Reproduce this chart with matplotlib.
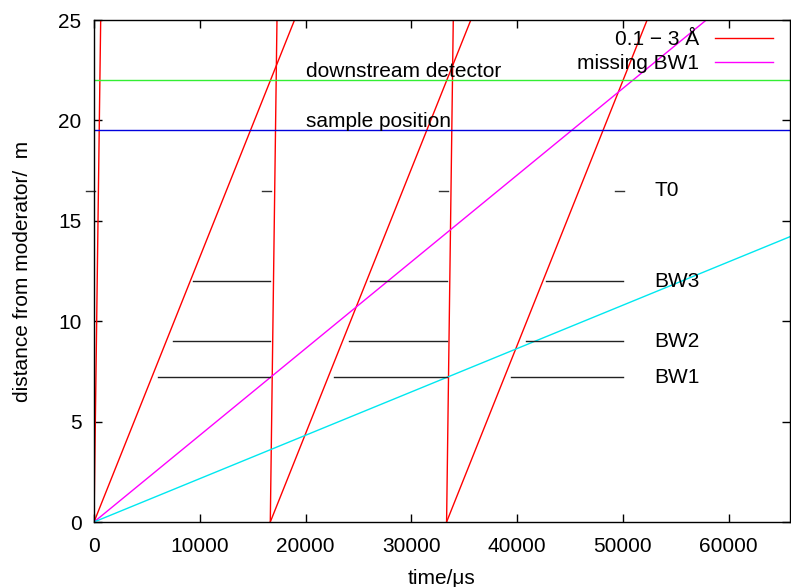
import matplotlib
matplotlib.use("Agg")
import matplotlib.pyplot as plt
import numpy as np

plt.rcParams['font.family'] = ['Liberation Sans', 'DejaVu Sans']

# --- data ---
h_over_m = 252.78            # us per (Angstrom * m)
frame_period = 16666.7       # us (60 Hz)
frame_starts = [0.0, frame_period, 2 * frame_period]
band_wavelengths = [0.1, 3.0]          # Angstrom, "0.1 - 3 A"
missing_wavelengths = [9.16, 18.32]     # Angstrom, magenta and cyan lines
missing_colors = ['#ff00ff', '#00e8f0']
max_distance = 26.0

detector_pos = 22.0
sample_pos = 19.5

t0_pos = 16.5
t0_window = [-750.0, 100.0]             # relative to each frame start
t0_frames = [0.0, frame_period, 2 * frame_period, 3 * frame_period]

bw_names = ['BW3', 'BW2', 'BW1']
bw_pos = [12.0, 9.0, 7.2]
bw_open_offset = [9400.0, 7470.0, 6050.0]   # start of closed segment after frame start

xlim = (0, 65800)
ylim = (0, 25)
xticks = [0, 10000, 20000, 30000, 40000, 50000, 60000]
yticks = [0, 5, 10, 15, 20, 25]

FS = 15

fig = plt.figure(figsize=(7.91, 5.87), dpi=100)
ax = fig.add_axes([94/791, 1-522/587, (790-94)/791, (522-20)/587])

# red band lines for each frame
first = True
for fs in frame_starts:
    for lam in band_wavelengths:
        ax.plot([fs, fs + h_over_m * lam * max_distance], [0, max_distance],
                color='#ff0000', lw=1.0, label='0.1 − 3 Å' if first else None)
        first = False

# missing BW1 lines
for i, (lam, c) in enumerate(zip(missing_wavelengths, missing_colors)):
    ax.plot([0, h_over_m * lam * max_distance], [0, max_distance], color=c, lw=1.0,
            label='missing BW1' if i == 0 else None)

# detector / sample
ax.axhline(detector_pos, color='#33ee33', lw=1.0)
ax.axhline(sample_pos, color='#0000dd', lw=1.0)
ax.text(20000, 22.45, 'downstream detector', fontsize=FS, va='center', ha='left')
ax.text(20000, 19.95, 'sample position', fontsize=FS, va='center', ha='left')

# T0 segments
for fs in t0_frames:
    ax.plot([fs + t0_window[0], fs + t0_window[1]], [t0_pos, t0_pos],
            color='#333333', lw=1.0, clip_on=False)
ax.text(53000, t0_pos, 'T0', fontsize=FS, va='center', ha='left')

# bandwidth chopper segments
for name, pos, off in zip(bw_names, bw_pos, bw_open_offset):
    for fs in frame_starts:
        ax.plot([fs + off, fs + frame_period], [pos, pos], color='#222222', lw=1.0)
    ax.text(53000, pos, name, fontsize=FS, va='center', ha='left')

ax.set_xlim(*xlim)
ax.set_ylim(*ylim)
ax.set_xticks(xticks)
ax.set_yticks(yticks)
ax.tick_params(direction='in', length=6, width=1, top=True, right=True, labelsize=FS)
ax.tick_params(axis='x', pad=10.5)
ax.tick_params(axis='y', pad=9)
for s in ax.spines.values():
    s.set_linewidth(1.0)

ax.set_xlabel('time/μs', fontsize=FS, labelpad=9.5)
ax.set_ylabel('distance from moderator/  m', fontsize=FS, labelpad=19)

ax.legend(loc='upper right', bbox_to_anchor=((773-94)/696, (522-30)/502),
          frameon=False, markerfirst=False, fontsize=FS,
          handlelength=2.8, borderaxespad=0.0, borderpad=0.0,
          labelspacing=0.25, handletextpad=0.75)

fig.savefig('out.png', dpi=100)
